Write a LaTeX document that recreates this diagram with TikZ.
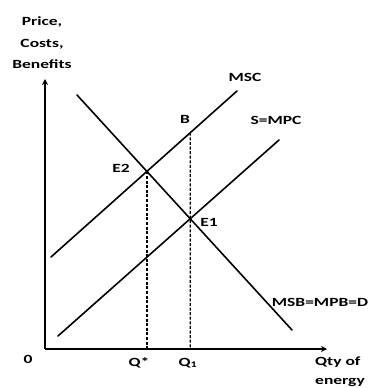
\documentclass[tikz,border=0pt]{standalone}
\usepackage{fontspec}
\setmainfont{Carlito}[FakeStretch=1.4]
\usetikzlibrary{arrows.meta}
\begin{document}
\begin{tikzpicture}[x=1pt,y=-1pt,
  curve/.style={line width=1.6pt,line cap=round},
  axis/.style={line width=1.7pt,-{Stealth[length=6pt,width=6pt]}},
  guide/.style={line width=1.3pt,dash pattern=on 3pt off 1.6pt},
  lbl/.style={font=\fontsize{12.5}{14}\selectfont\bfseries,inner sep=0pt,anchor=base}]
\useasboundingbox (0,0) rectangle (373,388);
% axes
\coordinate (O) at (45,349);
\coordinate (ytop) at (45,79);
\coordinate (xend) at (327,349);
\draw[axis] (O) -- (ytop);
\draw[axis] (O) -- (xend);
% curves
\coordinate (d1) at (77,95);
\coordinate (d2) at (292,330);
\coordinate (m1) at (51,257);
\coordinate (m2) at (237,91);
\coordinate (s1) at (58,336);
\coordinate (s2) at (279,140);
\draw[curve] (d1) -- (d2);
\draw[curve] (m1) -- (m2);
\draw[curve] (s1) -- (s2);
% intersections
\coordinate (E2) at (intersection of d1--d2 and m1--m2);
\coordinate (E1) at (intersection of d1--d2 and s1--s2);
\coordinate (E2x) at (E2 |- O);
\coordinate (E1x) at (E1 |- O);
\coordinate (B) at (intersection of m1--m2 and E1--E1x);
\draw[guide] (E2) -- (E2x);
\draw[guide] (B) -- (E1x);
% labels
\node[lbl] (t1) at (42,25) {Price,};
\node[lbl] (t2) at (42,47) {Costs,};
\node[lbl] (t3) at (42,68) {Benefits};
\node[lbl] (lmsc) at (245,81) {MSC};
\node[lbl] (lsmpc) at (276,124) {S=MPC};
\node[lbl] (lb) at (185,123) {B};
\node[lbl] (le2) at (121,172) {E2};
\node[lbl] (le1) at (209,226) {E1};
\node[lbl] (ld) at (320,306) {MSB=MPB=D};
\node[lbl] (l0) at (28,363) {0};
\node[lbl] (lqs) at (139,366) {Q*};
\node[lbl] (lq1) at (188,366) {Q\textsubscript{1}};
\node[lbl,anchor=base west] (lqty) at (315,365) {Qty of};
\node[lbl,anchor=base west] (len) at (315,384) {energy};
\end{tikzpicture}
\end{document}
